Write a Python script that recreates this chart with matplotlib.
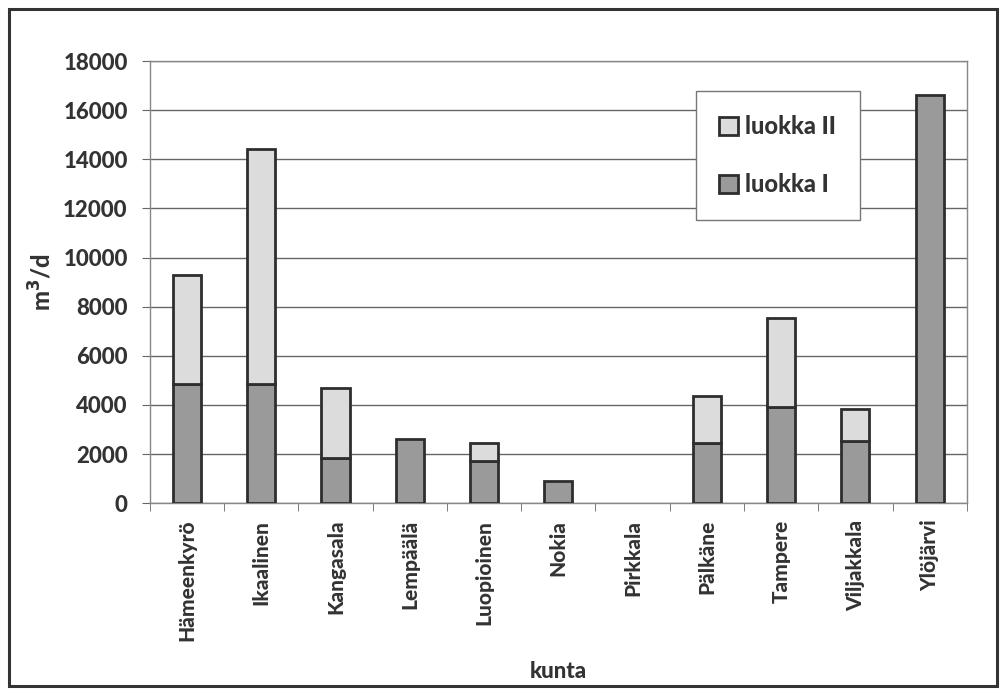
import matplotlib
matplotlib.use("Agg")
import matplotlib.pyplot as plt
from matplotlib.patches import Rectangle
import numpy as np

plt.rcParams['font.family'] = ['Lato', 'DejaVu Sans']
plt.rcParams['font.weight'] = 'black'
plt.rcParams['axes.labelweight'] = 'black'

kunnat = ['Hämeenkyrö', 'Ikaalinen', 'Kangasala', 'Lempäälä', 'Luopioinen',
          'Nokia', 'Pirkkala', 'Pälkäne', 'Tampere', 'Viljakkala', 'Ylöjärvi']
luokka1 = [4850, 4850, 1850, 2600, 1700, 900, 0, 2450, 3900, 2550, 16600]
luokka2 = [4450, 9550, 2850, 0, 750, 0, 0, 1900, 3650, 1300, 0]

txt = '#333333'
fig = plt.figure(figsize=(10.06, 6.94), dpi=100)
ax = fig.add_axes([0.149, 0.275, 0.812, 0.637])

# outer frame round the whole chart
fig.patches.append(Rectangle((0.009, 0.012), 0.982, 0.975, transform=fig.transFigure,
                             fill=False, edgecolor='#333333', linewidth=2.2))

x = np.arange(len(kunnat))
w = 0.38
lw1 = [2 if v > 0 else 0 for v in luokka1]
lw2 = [2 if v > 0 else 0 for v in luokka2]
ax.bar(x, luokka1, w, color='#9a9a9a', edgecolor='#2e2e2e', linewidth=lw1, label='luokka I', zorder=3)
ax.bar(x, luokka2, w, bottom=luokka1, color='#dcdcdc', edgecolor='#2e2e2e', linewidth=lw2,
       label='luokka II', zorder=3)

ax.set_xlim(-0.5, len(kunnat) - 0.5)
ax.set_ylim(0, 18000)
ax.set_yticks(range(0, 18001, 2000))
ax.yaxis.grid(True, color='#666666', linewidth=1)
ax.set_axisbelow(True)

ax.set_xticks(x)
ax.set_xticklabels(kunnat, rotation=90, fontsize=15, color=txt, fontweight='black')
ax.set_xticks(np.arange(-0.5, len(kunnat)), minor=True)
ax.tick_params(axis='x', which='major', length=0, pad=12)
ax.tick_params(axis='x', which='minor', length=6, color='#666666')
ax.tick_params(axis='y', length=6, color='#666666', labelsize=16, labelcolor=txt, pad=10)
for t in ax.get_yticklabels():
    t.set_fontweight('black')

for s in ax.spines.values():
    s.set_color('#888888')
    s.set_linewidth(1)

ax.set_ylabel('m$^3$/d', fontsize=17, color=txt, labelpad=6, fontweight='black')
ax.set_xlabel('kunta', fontsize=16, color=txt, labelpad=14, fontweight='black')

h, l = ax.get_legend_handles_labels()
leg = ax.legend(h[::-1], l[::-1], loc='upper left', bbox_to_anchor=(0.668, 0.932),
                prop={'size': 17, 'weight': 'black'}, frameon=True, fancybox=False, borderpad=1.0,
                labelspacing=1.5, handlelength=0.8, handleheight=0.8, handletextpad=0.3,
                borderaxespad=0, labelcolor=txt)
leg.get_frame().set_edgecolor('#777777')
leg.get_frame().set_linewidth(1)
leg.get_frame().set_facecolor('white')
leg.get_frame().set_alpha(1)
leg.set_zorder(5)

fig.savefig('out.png', dpi=100)
